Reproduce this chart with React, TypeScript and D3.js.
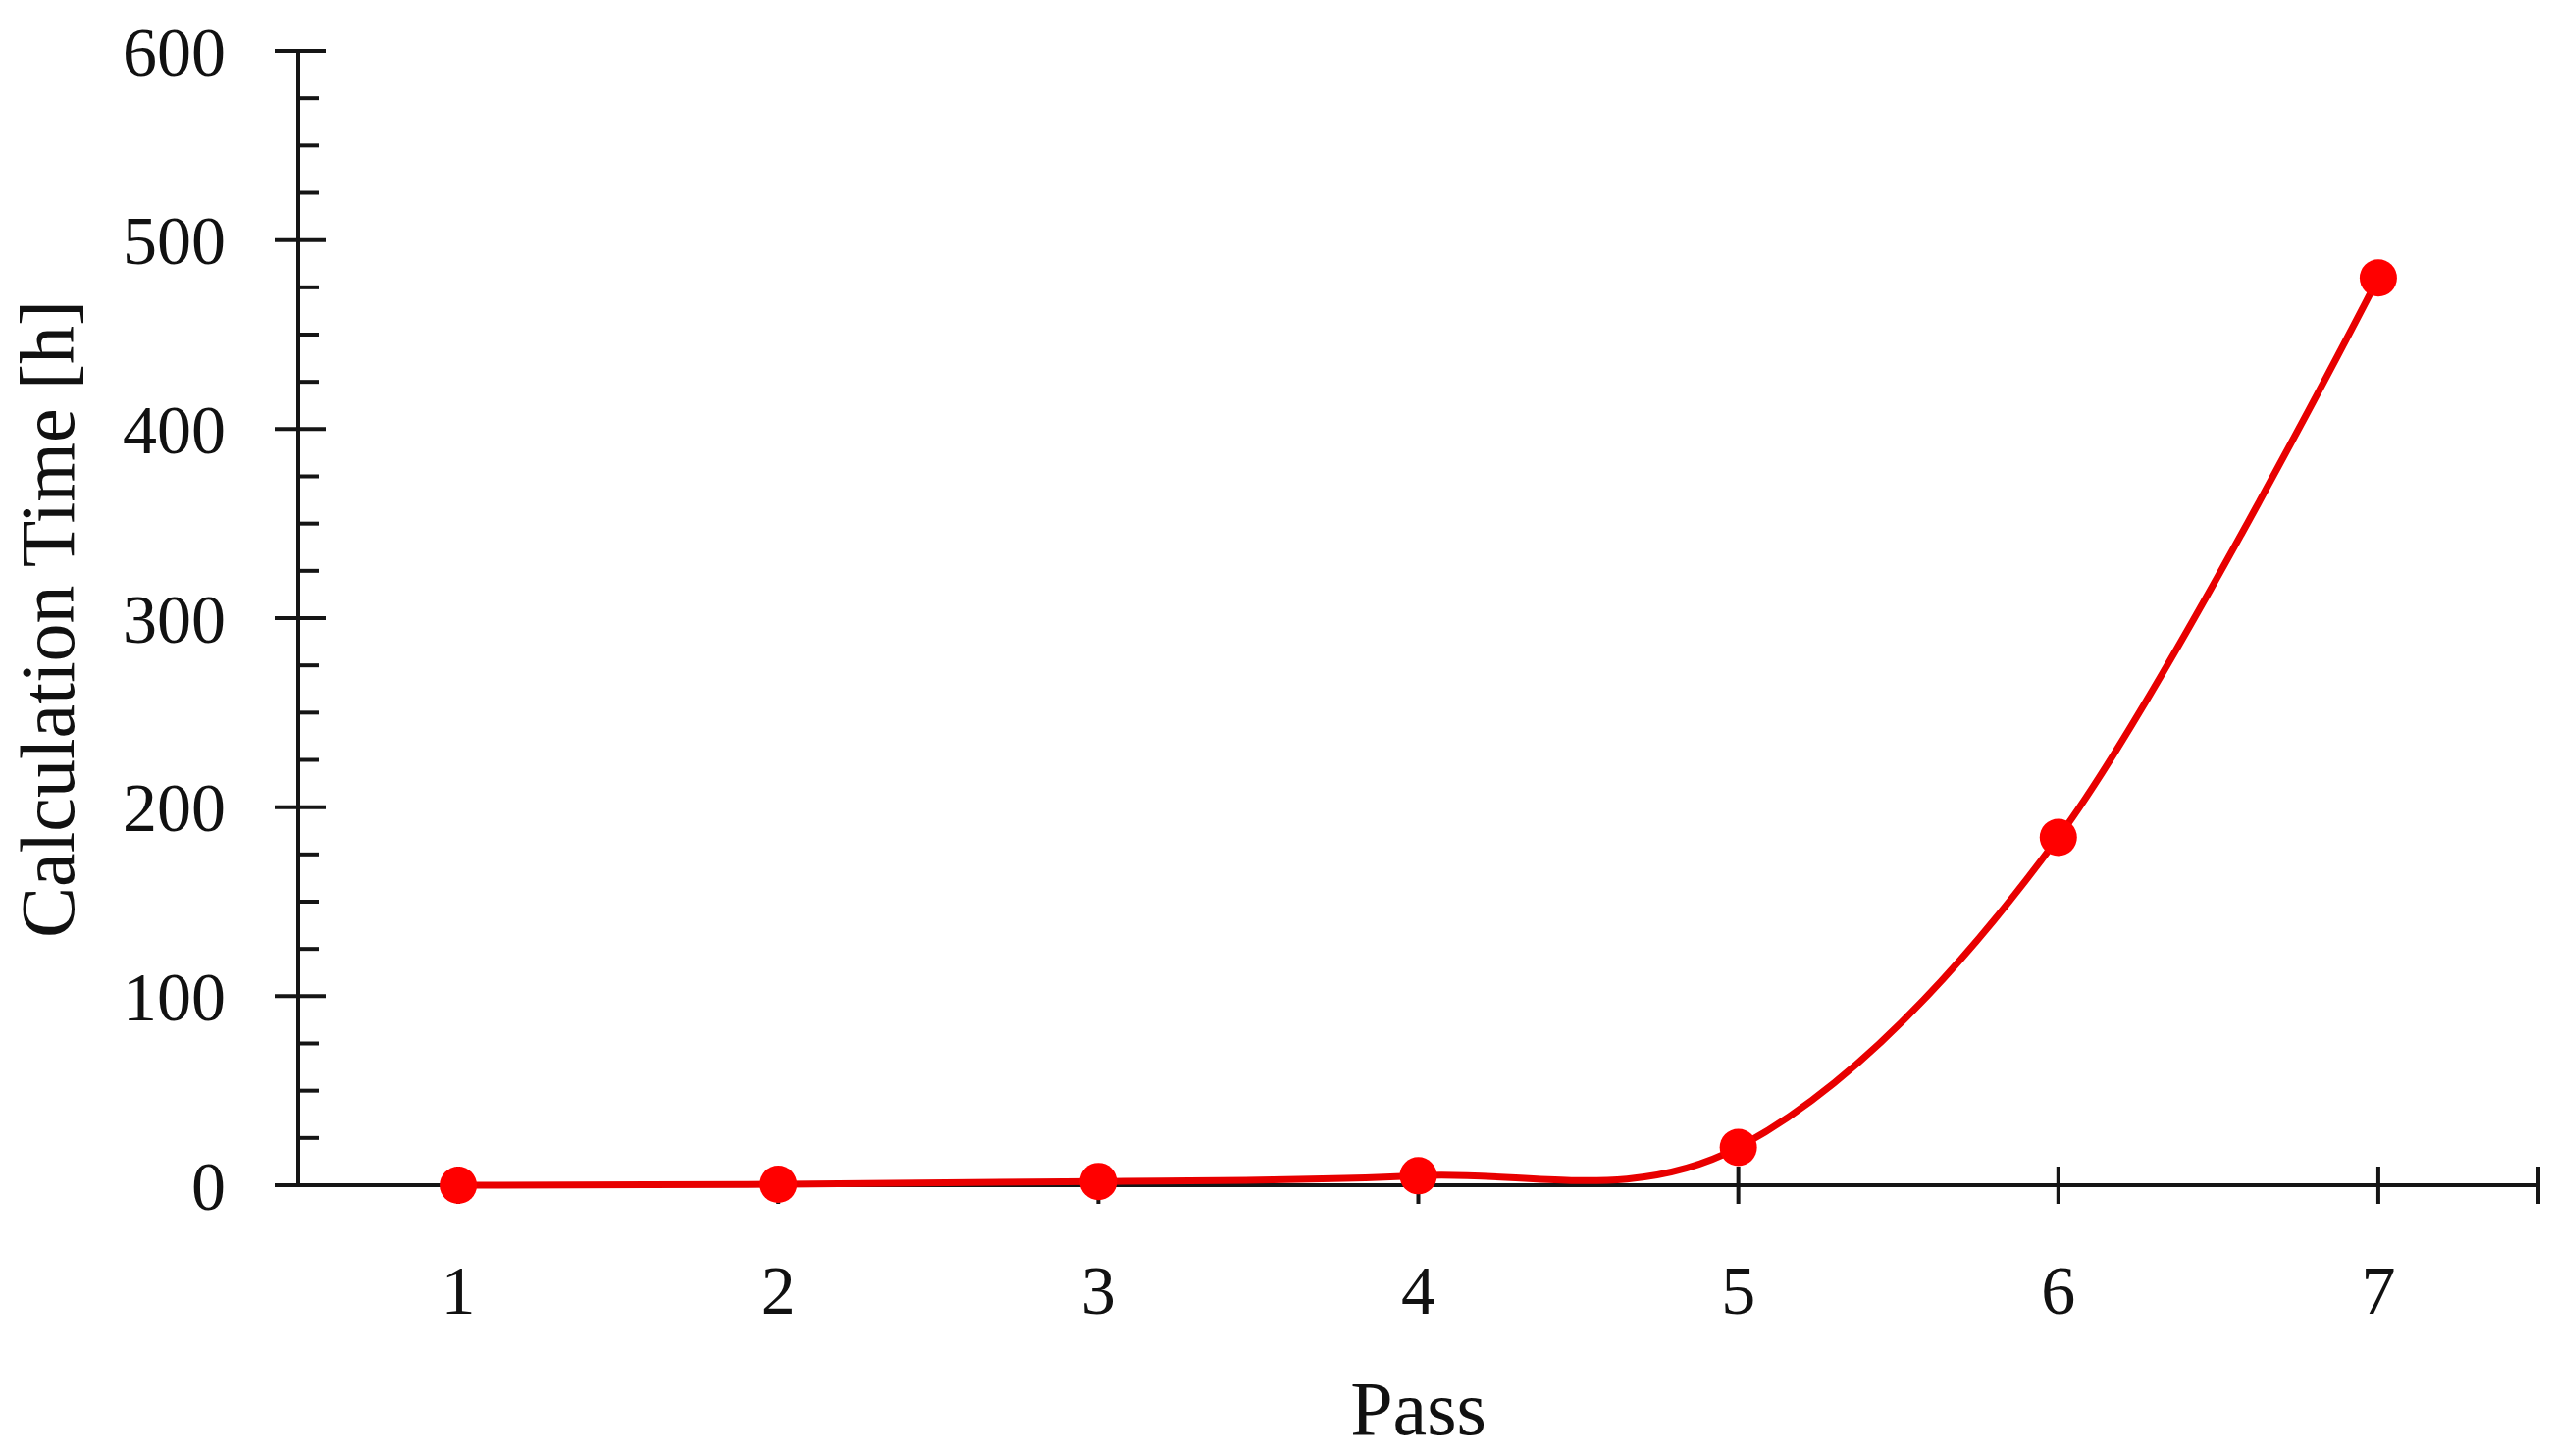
import React from "react";
import * as d3 from "d3";

const passes = [1, 2, 3, 4, 5, 6, 7];
const hours = [0, 0.5, 2, 5, 20, 184, 480];
const yMajorTicks = [0, 100, 200, 300, 400, 500, 600];
const yMinorTicks = [25, 50, 75, 125, 150, 175, 225, 250, 275, 325, 350, 375, 425, 450, 475, 525, 550, 575];
const xTickLabels = ["1", "2", "3", "4", "5", "6", "7"];
const xAxisTitle = "Pass";
const yAxisTitle = "Calculation Time [h]";

const W = 2605;
const H = 1484;

export default function App() {
  const x = d3.scaleLinear().domain([0.5, 7.5]).range([304, 2587]);
  const y = d3.scaleLinear().domain([0, 600]).range([1208, 52]);
  const font = "'Liberation Serif', 'Times New Roman', serif";
  const axisColor = "#151515";
  const red = "#ff0000";

  const pts: [number, number][] = passes.map((p, i) => [p, hours[i]]);
  const line = d3
    .line<[number, number]>()
    .x((d) => x(d[0]))
    .y((d) => y(d[1]))
    .curve(d3.curveCatmullRom.alpha(0));

  const x0 = x(0.5);
  const y0 = y(0);

  return (
    <svg
      width={W}
      height={H}
      style={{ position: "absolute", left: 0, top: 0, background: "#fff" }}
    >
      <rect x={0} y={0} width={W} height={H} fill="#fff" />
      {/* y axis */}
      <line x1={x0} x2={x0} y1={y(600)} y2={y0} stroke={axisColor} strokeWidth={4} />
      {yMajorTicks.map((t) => (
        <line key={"ym" + t} x1={x0 - 24} x2={x0 + 28} y1={y(t)} y2={y(t)} stroke={axisColor} strokeWidth={4} />
      ))}
      {yMinorTicks.map((t) => (
        <line key={"yn" + t} x1={x0} x2={x0 + 21} y1={y(t)} y2={y(t)} stroke={axisColor} strokeWidth={4} />
      ))}
      {yMajorTicks.map((t) => (
        <text
          key={"yl" + t}
          x={230}
          y={y(t)}
          dy="0.35em"
          textAnchor="end"
          fontFamily={font}
          fontSize={70}
          fill="#111"
        >
          {t}
        </text>
      ))}
      {/* x axis */}
      <line x1={x0 - 24} x2={x(7.5)} y1={y0} y2={y0} stroke={axisColor} strokeWidth={4} />
      {passes.map((p) => (
        <line key={"xt" + p} x1={x(p)} x2={x(p)} y1={y0 - 19} y2={y0 + 19} stroke={axisColor} strokeWidth={4} />
      ))}
      <line x1={x(7.5)} x2={x(7.5)} y1={y0 - 19} y2={y0 + 19} stroke={axisColor} strokeWidth={4} />
      {passes.map((p, i) => (
        <text
          key={"xl" + p}
          x={x(p)}
          y={1339}
          textAnchor="middle"
          fontFamily={font}
          fontSize={70}
          fill="#111"
        >
          {xTickLabels[i]}
        </text>
      ))}
      {/* titles */}
      <text
        x={x(4)}
        y={1462}
        textAnchor="middle"
        fontFamily={font}
        fontSize={78}
        fill="#111"
      >
        {xAxisTitle}
      </text>
      <text
        transform={`translate(75, 631) rotate(-90)`}
        textAnchor="middle"
        fontFamily={font}
        fontSize={78}
        fill="#111"
      >
        {yAxisTitle}
      </text>
      {/* series */}
      <path d={line(pts) || ""} fill="none" stroke="#e80000" strokeWidth={7} />
      {pts.map((d, i) => (
        <circle key={"pt" + i} cx={x(d[0])} cy={y(d[1])} r={19} fill={red} />
      ))}
    </svg>
  );
}
